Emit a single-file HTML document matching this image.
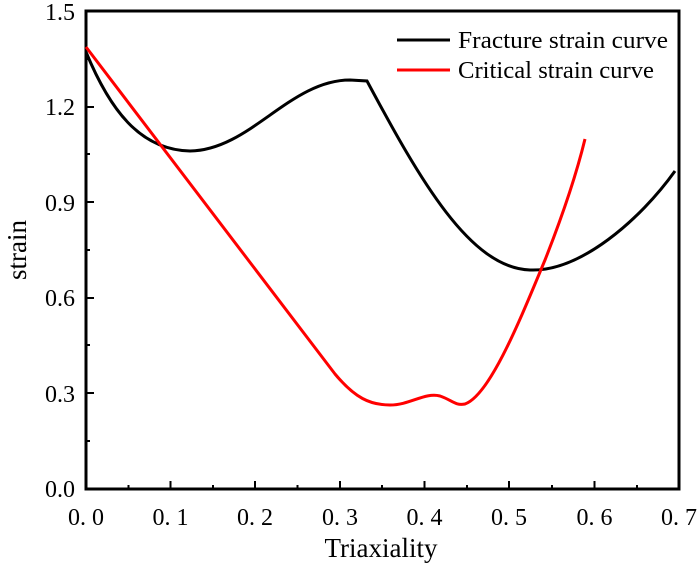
<!DOCTYPE html>
<html><head><style>body{margin:0;background:#fff}</style></head><body>
<svg width="700" height="566" xmlns="http://www.w3.org/2000/svg" font-family="Liberation Serif, serif">
<rect width="700" height="566" fill="#fff"/>
<g stroke="#000" stroke-width="2">
<path d="M128.5 489v-4M213 489v-4M297.5 489v-4M382 489v-4M467 489v-4M552 489v-4M637 489v-4" />
<path d="M170.5 489v-8M255 489v-8M340 489v-8M424.5 489v-8M509 489v-8M594.5 489v-8" />
<path d="M86 441h4M86 345h4M86 250h4M86 154h4M86 59h4"/>
<path d="M86 393h8M86 298h8M86 202h8M86 107h8"/>
</g>
<rect x="86" y="11" width="593" height="478" fill="none" stroke="#000" stroke-width="3"/>
<g font-size="24" text-anchor="end">
<text x="75" y="20">1.5</text><text x="75" y="115">1.2</text><text x="75" y="211">0.9</text>
<text x="75" y="306">0.6</text><text x="75" y="402">0.3</text><text x="75" y="497">0.0</text>
</g>
<g font-size="24" text-anchor="middle">
<text x="86" y="525">0. 0</text><text x="170.5" y="525">0. 1</text><text x="255" y="525">0. 2</text>
<text x="340" y="525">0. 3</text><text x="424.5" y="525">0. 4</text><text x="509" y="525">0. 5</text>
<text x="594.5" y="525">0. 6</text><text x="679" y="525">0. 7</text>
</g>
<text x="381" y="557" font-size="27" text-anchor="middle">Triaxiality</text>
<text transform="translate(26,250) rotate(-90)" font-size="27" text-anchor="middle">strain</text>
<path d="M86 52 C110 110,140 150,190 151 C250 150,290 80,350 80 L367 81 C420 180,470 268,530 270 C580 272,640 220,675 171" fill="none" stroke="#000" stroke-width="3"/>
<path d="M86 47 L335 374 C355 398,370 405,390 405 C410 405,425 392,440 396 C452 400,455 406,465 404 C490 395,520 320,545 260 C560 222,575 180,585 139" fill="none" stroke="#f00" stroke-width="3"/>
<line x1="397" y1="40" x2="450" y2="40" stroke="#000" stroke-width="3"/>
<line x1="397" y1="70" x2="450" y2="70" stroke="#f00" stroke-width="3"/>
<text x="458" y="48" font-size="24" textLength="210" lengthAdjust="spacingAndGlyphs">Fracture strain curve</text>
<text x="458" y="78" font-size="24" textLength="196" lengthAdjust="spacingAndGlyphs">Critical strain curve</text>
</svg>
</body></html>
